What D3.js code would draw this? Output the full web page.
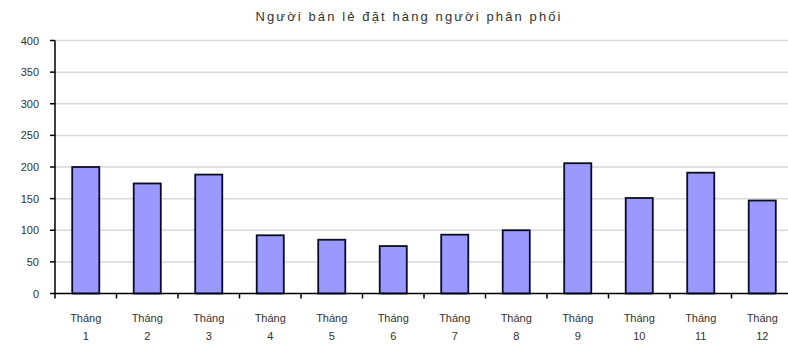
<!DOCTYPE html>
<html>
<head>
<meta charset="utf-8">
<script src="https://cdn.jsdelivr.net/npm/d3@7"></script>
<style>
	body { margin: 0; background: #fff; overflow: hidden; }
	svg { display: block; }
	.grid line { stroke: #d9d9d9; stroke-width: 1.5; }
	.labels line, .labels path { stroke: #000; stroke-width: 1.5; fill: none; }
	.bar { fill: #9999ff; stroke: #0a0a2a; stroke-width: 1.8; }
</style>
</head>
<body>
<svg></svg>
<script>
const months = ['1', '2', '3', '4', '5', '6', '7', '8', '9', '10', '11', '12'];
const orders = [200, 174, 188, 92, 85, 75, 93, 100, 206, 151, 191, 147];
const yTicks = [0, 50, 100, 150, 200, 250, 300, 350, 400];
const title = 'Người bán lẻ đặt hàng người phân phối';

const data = months.map((m, i) => ({ month: m, value: orders[i] }));

const width = 788;
const height = 350;
const margin = { top: 40.5, right: -5, bottom: 56.5, left: 55 };
const innerWidth = width - margin.left - margin.right;
const innerHeight = height - margin.top - margin.bottom;
const font = 'Liberation Sans, Arial, sans-serif';

const svg = d3.select('svg')
	.attr('width', width)
	.attr('height', height)
	.attr('viewBox', `0 0 ${width} ${height}`);

const label = (sel) => sel
	.attr('font-family', font)
	.attr('font-size', 11)
	.attr('fill', '#333');

svg.append('text')
	.attr('x', 408)
	.attr('y', 21)
	.attr('text-anchor', 'middle')
	.call(label)
	.attr('font-size', 13)
	.attr('textLength', 305)
	.attr('lengthAdjust', 'spacing')
	.text(title);

const xScale = d3.scaleBand()
	.domain(months)
	.range([margin.left, margin.left + innerWidth])
	.paddingInner(0.56)
	.paddingOuter(0.28);

const yScale = d3.scaleLinear()
	.domain([0, 400])
	.range([margin.top + innerHeight, margin.top]);

// gridlines
svg.append('g')
	.attr('class', 'grid')
	.selectAll('line')
	.data(yTicks.slice(1))
	.join('line')
	.attr('x1', margin.left)
	.attr('x2', width)
	.attr('y1', d => yScale(d))
	.attr('y2', d => yScale(d));

svg.selectAll('rect.bar')
	.data(data)
	.join('rect')
	.attr('class', 'bar')
	.attr('x', d => xScale(d.month))
	.attr('y', d => yScale(d.value))
	.attr('width', xScale.bandwidth())
	.attr('height', d => yScale(0) - yScale(d.value));

// y axis
const yAxisGroup = svg.append('g')
	.attr('class', 'labels');

yAxisGroup.append('path')
	.attr('d', `M${margin.left},${yScale(400)}V${yScale(0)}`);

yAxisGroup.selectAll('line')
	.data(yTicks)
	.join('line')
	.attr('x1', margin.left - 5)
	.attr('x2', margin.left)
	.attr('y1', d => yScale(d))
	.attr('y2', d => yScale(d));

yAxisGroup.selectAll('text')
	.data(yTicks)
	.join('text')
	.attr('x', margin.left - 16)
	.attr('y', d => yScale(d) + 4)
	.attr('text-anchor', 'end')
	.call(label)
	.text(d => d);

// x axis: ticks at category boundaries, two-line labels
const step = xScale.step();
const x0 = margin.left;
const base = yScale(0);
const xAxisGroup = svg.append('g')
	.attr('class', 'labels');

xAxisGroup.append('path')
	.attr('d', `M${x0},${base}H${width}`);

xAxisGroup.selectAll('line')
	.data(d3.range(months.length))
	.join('line')
	.attr('x1', i => x0 + i * step)
	.attr('x2', i => x0 + i * step)
	.attr('y1', base)
	.attr('y2', base + 5);

const cx = d => xScale(d) + xScale.bandwidth() / 2;
xAxisGroup.selectAll('text.word')
	.data(months)
	.join('text')
	.attr('class', 'word')
	.attr('x', cx)
	.attr('y', base + 28)
	.attr('text-anchor', 'middle')
	.call(label)
	.text('Tháng');
xAxisGroup.selectAll('text.num')
	.data(months)
	.join('text')
	.attr('class', 'num')
	.attr('x', cx)
	.attr('y', base + 46)
	.attr('text-anchor', 'middle')
	.call(label)
	.text(d => d);
</script>
</body>
</html>
